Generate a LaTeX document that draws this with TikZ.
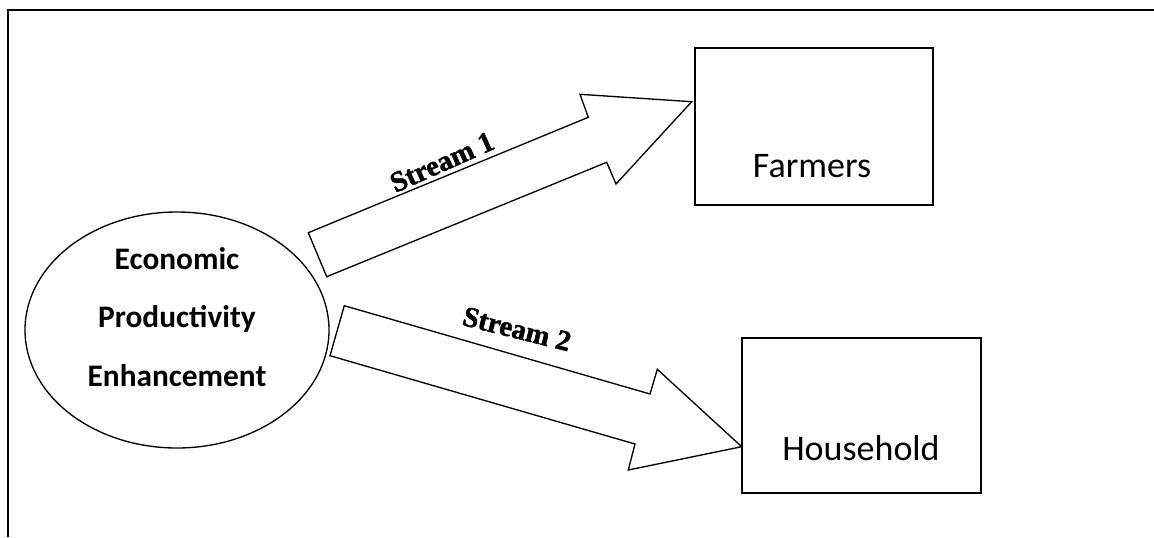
\documentclass[tikz,border=0pt]{standalone}
\usepackage{fontspec}
\usetikzlibrary{shapes.geometric}
\setmainfont{Liberation Serif}
\newfontfamily\calfont{Carlito}
\newfontfamily\streamfont{Liberation Serif Bold}[FakeBold=1.6]
\begin{document}
\begin{tikzpicture}[x=0.75pt,y=-0.75pt,
  frameline/.style={line width=1.6pt,black},
  shapeline/.style={line width=1pt,black},
  boxnode/.style={draw,shapeline,rectangle,inner sep=0pt},
  boxtext/.style={anchor=base,font=\calfont\fontsize{27}{30}\selectfont,inner sep=0pt},
  streamlabel/.style={font=\streamfont\fontsize{21.5}{24}\selectfont,inner sep=0pt},
  blockarrow/.style={draw,shapeline,fill=white,line join=miter}]
\useasboundingbox (0,0) rectangle (1154,537);
% frame
\draw[frameline] (8,537) -- (8,10) -- (1154,10);
% ellipse
\node[draw,shapeline,ellipse,minimum width=228pt,minimum height=177pt,inner sep=0pt] (epe) at (177,330) {};
\node[align=center,inner sep=0pt,font=\calfont\bfseries\fontsize{23.5}{44}\selectfont] (epetxt) at (177,317)
      {Economic\\Productivity\\Enhancement};
% boxes
\node[boxnode,minimum width=178.5pt,minimum height=117.75pt] (farm) at (814,126.5) {};
\node[boxtext] (farmtxt) at (812,177) {Farmers};
\node[boxnode,minimum width=179.25pt,minimum height=116.25pt] (house) at (861.5,415.5) {};
\node[boxtext] (housetxt) at (861,460) {Household};
% arrow 1
\coordinate (a1tip) at (691.7,101.7);
\draw[blockarrow] (308.3,232.7) -- (588.3,117.3) -- (580,94.3) -- (a1tip)
  -- (616,184) -- (606.7,162.3) -- (326.7,276.7) -- cycle;
% arrow 2
\coordinate (a2tip) at (741.7,446.7);
\draw[blockarrow] (344.3,305.7) -- (650,394) -- (657.3,369.3) -- (a2tip)
  -- (628.3,470) -- (635,444) -- (330,355.7) -- cycle;
% labels
\node[streamlabel,rotate=24] (s1) at (442,162) {Stream 1};
\node[streamlabel,rotate=-14] (s2) at (517,329) {Stream 2};
\end{tikzpicture}
\end{document}
